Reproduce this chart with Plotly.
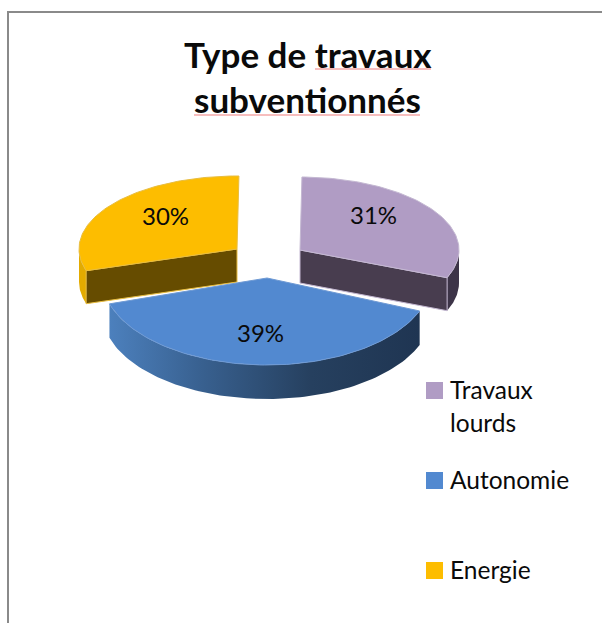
import math
import plotly.graph_objects as go

# ---- data ----
categories = ["Travaux lourds", "Autonomie", "Energie"]
values = [31, 39, 30]
title_lines = ["Type de travaux", "subventionnés"]
legend_lines = [["Travaux", "lourds"], ["Autonomie"], ["Energie"]]

# ---- style ----
FONT = "Lato, Carlito, Calibri, sans-serif"
W, H = 602, 623
START_ANGLE = 0.7
top_colors = ["#b09cc4", "#5289d0", "#fdbd00"]
wall_colors = ["#483d4f", None, "#664c00"]
side_colors = ["#3d3448", None, "#e3ab00"]
edge_colors = ["#c4b8d2", "#6f9ad4", "#e8bd40"]
centers = [(300, 250), (267, 278), (237, 249)]
radii = [(159, 73), (165, 87), (158, 73)]
depths = [33, 34, 33]
label_pos = [(373, 214), (260, 332), (165, 215)]
legend_x, legend_text_x = 434.5, 447.5
legend_y = [390.5, 480.5, 570.5]
legend_line_gap = 33
legend_text_dy = -1


def arc(c, r, a0, a1, dy=0, n=90):
    pts = []
    for i in range(n + 1):
        a = math.radians(a0 + (a1 - a0) * i / n)
        pts.append((c[0] + r[0] * math.sin(a), c[1] - r[1] * math.cos(a) + dy))
    return pts


def poly(fig, pts, color=None, line=None, gradient=None):
    xs = [p[0] for p in pts] + [pts[0][0]]
    ys = [p[1] for p in pts] + [pts[0][1]]
    kw = dict(fillgradient=gradient) if gradient else dict(fillcolor=color)
    fig.add_trace(go.Scatter(x=xs, y=ys, mode="lines", fill="toself",
                             line=dict(color=line or "rgba(0,0,0,0)", width=1),
                             hoverinfo="skip", showlegend=False, **kw))


total = sum(values)
spans = []
a = START_ANGLE
for v in values:
    spans.append((a, a + v / total * 360))
    a += v / total * 360

fig = go.Figure()

# back slices first, then the front slice
for i in (0, 2):
    a0, a1 = spans[i]
    c, r, d = centers[i], radii[i], depths[i]
    if i == 0:
        edge_angle, vis0, vis1 = a1, 90, a1
    else:
        edge_angle, vis0, vis1 = a0, a0, 270
    # outer rim sliver
    top = arc(c, r, vis0, vis1, 0, 30)
    bottom = arc(c, r, vis0, vis1, d, 30)
    poly(fig, top + bottom[::-1], side_colors[i])
    # cut wall
    corner = arc(c, r, edge_angle, edge_angle, 0, 1)[0]
    wall = [c, corner, (corner[0], corner[1] + d), (c[0], c[1] + d)]
    poly(fig, wall, wall_colors[i], edge_colors[i])
    # top face
    poly(fig, [c] + arc(c, r, a0, a1), top_colors[i], edge_colors[i])

# front slice with shaded rim (light on the left, dark on the right)
a0, a1 = spans[1]
c, r, d = centers[1], radii[1], depths[1]
rim = arc(c, r, a0, a1) + arc(c, r, a0, a1, d)[::-1]
poly(fig, rim, gradient=dict(type="horizontal",
                             colorscale=[[0, "#4c80bd"], [0.3, "#38608f"],
                                         [0.65, "#26405f"], [1, "#1f3552"]]))
poly(fig, [c] + arc(c, r, a0, a1), top_colors[1], edge_colors[1])

# legend swatches
fig.add_trace(go.Scatter(x=[legend_x] * 3, y=legend_y, mode="markers",
                         marker=dict(symbol="square", size=17, color=top_colors,
                                     line=dict(width=0)),
                         text=categories, hoverinfo="text", showlegend=False))

ann = []
ann.append(dict(x=308, y=54, text=f"<b>{title_lines[0]}</b>", font=dict(size=35)))
ann.append(dict(x=307, y=99, text=f"<b>{title_lines[1]}</b>", font=dict(size=35)))
for v, (x, y) in zip(values, label_pos):
    ann.append(dict(x=x, y=y, text=f"{v}%", font=dict(size=24)))
for lines, y in zip(legend_lines, legend_y):
    for j, t in enumerate(lines):
        ann.append(dict(x=legend_text_x, y=y + legend_text_dy + j * legend_line_gap, text=t,
                        xanchor="left", font=dict(size=24.5)))
for a_ in ann:
    a_.update(xref="x", yref="y", showarrow=False)
    a_.setdefault("xanchor", "center")
    a_["yanchor"] = "middle"
    a_["font"].update(family=FONT, color="#0a0a0a")

shapes = [
    dict(type="line", x0=8, x1=8, y0=12, y1=623, line=dict(color="#8a8a8a", width=2)),
    dict(type="line", x0=7, x1=602, y0=12, y1=12, line=dict(color="#8a8a8a", width=2)),
    dict(type="line", x0=315, x1=431, y0=69, y1=69, line=dict(color="#f4a8a8", width=1.5)),
    dict(type="line", x0=194, x1=420, y0=115, y1=115, line=dict(color="#f4a8a8", width=1.5)),
]

fig.update_layout(
    width=W, height=H, autosize=False,
    margin=dict(l=0, r=0, t=0, b=0),
    paper_bgcolor="white", plot_bgcolor="white",
    showlegend=False,
    annotations=ann, shapes=shapes,
    xaxis=dict(range=[0, W], visible=False, fixedrange=True),
    yaxis=dict(range=[H, 0], visible=False, fixedrange=True),
)
fig.write_html("out.html", config=dict(displayModeBar=False),
               post_script="document.body.style.margin='0';document.body.style.overflow='hidden';")
